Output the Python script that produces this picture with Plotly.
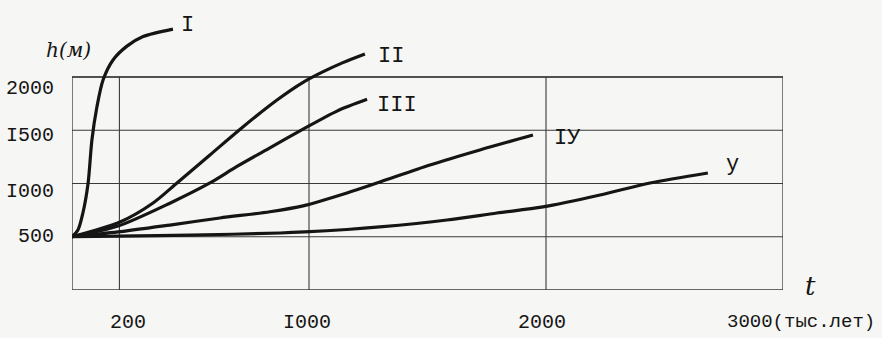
import plotly.graph_objects as go

# ---- data ----
t_I = [0, 25, 46, 68, 84, 105, 131, 173, 232, 300, 426]
h_I = [500, 563, 723, 1005, 1409, 1718, 1972, 2160, 2290, 2380, 2450]

t_II = [0, 203, 342, 443, 582, 721, 865, 975, 1060, 1143, 1236]
h_II = [500, 639, 817, 1005, 1268, 1531, 1784, 1950, 2050, 2135, 2216]

t_III = [0, 194, 413, 582, 696, 835, 975, 1118, 1245]
h_III = [500, 600, 815, 1005, 1160, 1335, 1510, 1680, 1790]

t_IV = [0, 194, 413, 624, 835, 975, 1160, 1299, 1510, 1721, 1945]
h_IV = [500, 545, 610, 676, 735, 790, 911, 1014, 1174, 1315, 1455]

t_V = [0, 194, 500, 878, 983, 1160, 1299, 1582, 1793, 1987, 2228, 2439, 2683]
h_V = [500, 505, 515, 535, 545, 568, 592, 657, 723, 780, 892, 1005, 1099]

series = [
    ("I", t_I, h_I, 489, 2479),
    ("II", t_II, h_II, 1346, 2188),
    ("III", t_III, h_III, 1371, 1737),
    ("IУ", t_IV, h_IV, 2088, 1418),
    ("у", t_V, h_V, 2785, 1183),
]

y_grid = [500, 1000, 1500, 2000]
y_labels = ["500", "I000", "I500", "2000"]
y_label_shift = [0, -8, -5, -11]

x_grid = [200, 1000, 2000]
x_labels = ["200", "I000", "2000"]
x_label_shift = [9, -2, -4]

X_MAX = 3000
Y_BOX = 2000

INK = "#151515"
GRID = "#3a3a3a"
BG = "#f6f6f4"
FONT = "Liberation Mono"

fig = go.Figure()
for name, t, h, lx, ly in series:
    fig.add_trace(go.Scatter(x=t, y=h, mode="lines", name=name,
                             line=dict(color=INK, width=3.2, shape="spline", smoothing=0.8),
                             showlegend=False, hoverinfo="skip"))
    fig.add_annotation(x=lx, y=ly, text=name, showarrow=False,
                       font=dict(family=FONT, size=22, color=INK))

shapes = []
# frame
shapes.append(dict(type="rect", xref="x", yref="y", x0=0, x1=X_MAX, y0=0, y1=Y_BOX,
                   line=dict(color=GRID, width=1.3), layer="below"))
for yv in y_grid:
    shapes.append(dict(type="line", xref="x", yref="y", x0=0, x1=X_MAX, y0=yv, y1=yv,
                       line=dict(color=GRID, width=1.1), layer="below"))
for xv in x_grid:
    shapes.append(dict(type="line", xref="x", yref="y", x0=xv, x1=xv, y0=0, y1=Y_BOX,
                       line=dict(color=GRID, width=1.1), layer="below"))

for yv, lab, sh in zip(y_grid, y_labels, y_label_shift):
    fig.add_annotation(x=0, y=yv, xref="x", yref="y", text=lab, showarrow=False,
                       xanchor="right", xshift=-16, yshift=sh,
                       font=dict(family=FONT, size=20, color=INK))
for xv, lab, sh in zip(x_grid, x_labels, x_label_shift):
    fig.add_annotation(x=xv, y=0, xref="x", yref="y", text=lab, showarrow=False,
                       yanchor="middle", yshift=-32, xshift=sh,
                       font=dict(family=FONT, size=20, color=INK))
fig.add_annotation(x=X_MAX, y=0, xref="x", yref="y", text="3000(тыс.лет)", showarrow=False,
                   xanchor="left", yshift=-32, xshift=-58,
                   font=dict(family=FONT, size=19, color=INK))
fig.add_annotation(x=X_MAX, y=0, xref="x", yref="y", text="<i>t</i>", showarrow=False,
                   xanchor="left", yshift=4, xshift=20,
                   font=dict(family="DejaVu Serif", size=26, color=INK))
fig.add_annotation(x=0, y=Y_BOX, xref="x", yref="y", text="<i>h(м)</i>", showarrow=False,
                   xanchor="center", yshift=27, xshift=-4,
                   font=dict(family="DejaVu Serif", size=20, color=INK))

fig.update_layout(
    width=882, height=338,
    margin=dict(l=72, r=99, t=18, b=48),
    paper_bgcolor=BG, plot_bgcolor=BG,
    shapes=shapes,
    xaxis=dict(range=[0, X_MAX], showgrid=False, zeroline=False, showline=False,
               showticklabels=False, fixedrange=True),
    yaxis=dict(range=[0, 2554], showgrid=False, zeroline=False, showline=False,
               showticklabels=False, fixedrange=True),
)

fig.write_html("out.html", config={"displayModeBar": False},
               post_script="document.body.style.margin='0px';document.body.style.overflow='hidden';")
